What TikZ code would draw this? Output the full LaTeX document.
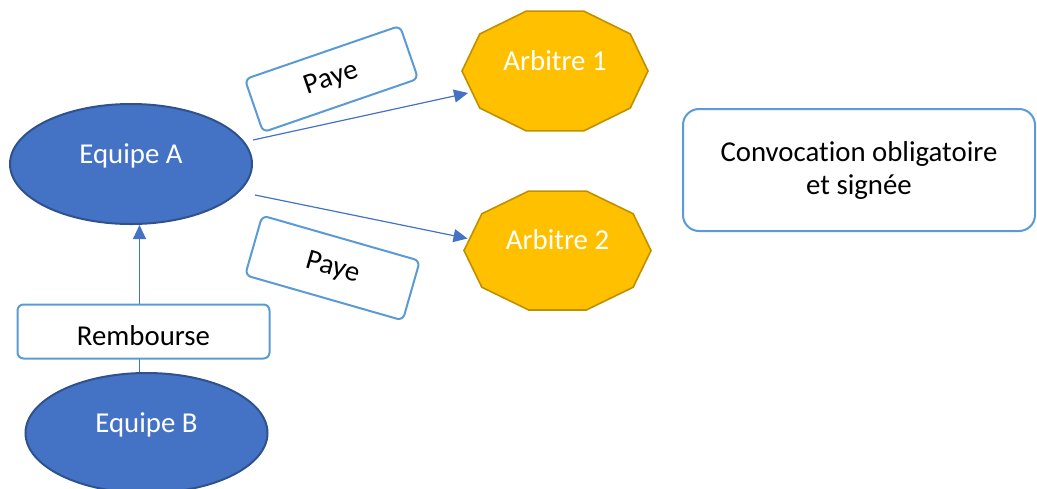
\documentclass[tikz,border=0pt]{standalone}
\usepackage{fontspec}
\setmainfont{Carlito}[Ligatures=NoCommon]
\usetikzlibrary{shapes.geometric, arrows.meta, positioning, calc}
\definecolor{team_blue}{HTML}{4472C4}
\definecolor{team_dark}{HTML}{2F528F}
\definecolor{ref_yellow}{HTML}{FFC000}
\definecolor{ref_dark}{HTML}{BF9000}
\definecolor{note_blue}{HTML}{5B9BD5}
\tikzset{
  team/.style={ellipse,draw=team_dark,line width=1pt,fill=team_blue,text=white,inner sep=0pt,minimum width=121pt,minimum height=60pt,text height=10pt,text depth=11pt},
  referee/.style={text=white,inner sep=0pt,text height=10pt,text depth=11pt},
  refshape/.style={draw=ref_dark,line width=0.8pt,fill=ref_yellow},
  note/.style={rectangle,draw=note_blue,line width=1pt,fill=white,rounded corners=3pt,inner sep=0pt},
  notebig/.style={note,rounded corners=8pt,align=center},
  pays/.style={line width=0.6pt,team_blue,-{Triangle[length=7pt,width=6.5pt]}},
}
\pgfdeclarelayer{back}
\pgfsetlayers{back,main}

\begin{document}
\begin{tikzpicture}[x={(0.5pt,0)},y={(0,-0.5pt)},font=\fontsize{14.4}{16.5}\selectfont]
	\useasboundingbox (0,0) rectangle (1037,488);
	\node[team] (eqA) at (131,164) {Equipe A};
	\node[team] (eqB) at (146.5,433) {Equipe B};
	\node[referee] (arb1) at (555,71) {Arbitre 1};
	\node[referee] (arb2) at (557.5,250.5) {Arbitre 2};
	\begin{pgfonlayer}{back}
	    \draw[refshape] ($(arb1)+(0:93 and 63)$) \foreach \a in {36,72,...,324} { -- ($(arb1)+(\a:93 and 63)$) } -- cycle;
	    \draw[refshape] ($(arb2)+(0:93.5 and 62.5)$) \foreach \a in {36,72,...,324} { -- ($(arb2)+(\a:93.5 and 62.5)$) } -- cycle;
	    \draw[pays] ($(eqB.north)+(-7,0)$) coordinate (remb) -- (remb |- eqA.south);
	\end{pgfonlayer}
	\node[note,minimum width=126pt,minimum height=27pt,text height=14pt,text depth=0pt] (rem) at (143.5,331.5) {Rembourse};
	\node[note,minimum width=82pt,minimum height=28pt,rotate=19] (pay1) at (331.5,79) {Paye};
	\node[note,minimum width=82pt,minimum height=31pt,rotate=-16] (pay2) at (332.5,268) {Paye};
	\node[notebig,minimum width=176pt,minimum height=61pt] (conv) at (859,170) {Convocation obligatoire\\et signée};
	\draw[pays] ($(eqA.east)+(0,-24)$) -- ($(arb1)+(-87,22)$);
	\draw[pays] ($(eqA.east)+(2,31)$) -- ($(arb2)+(-90,-12)$);
\end{tikzpicture}
\end{document}
